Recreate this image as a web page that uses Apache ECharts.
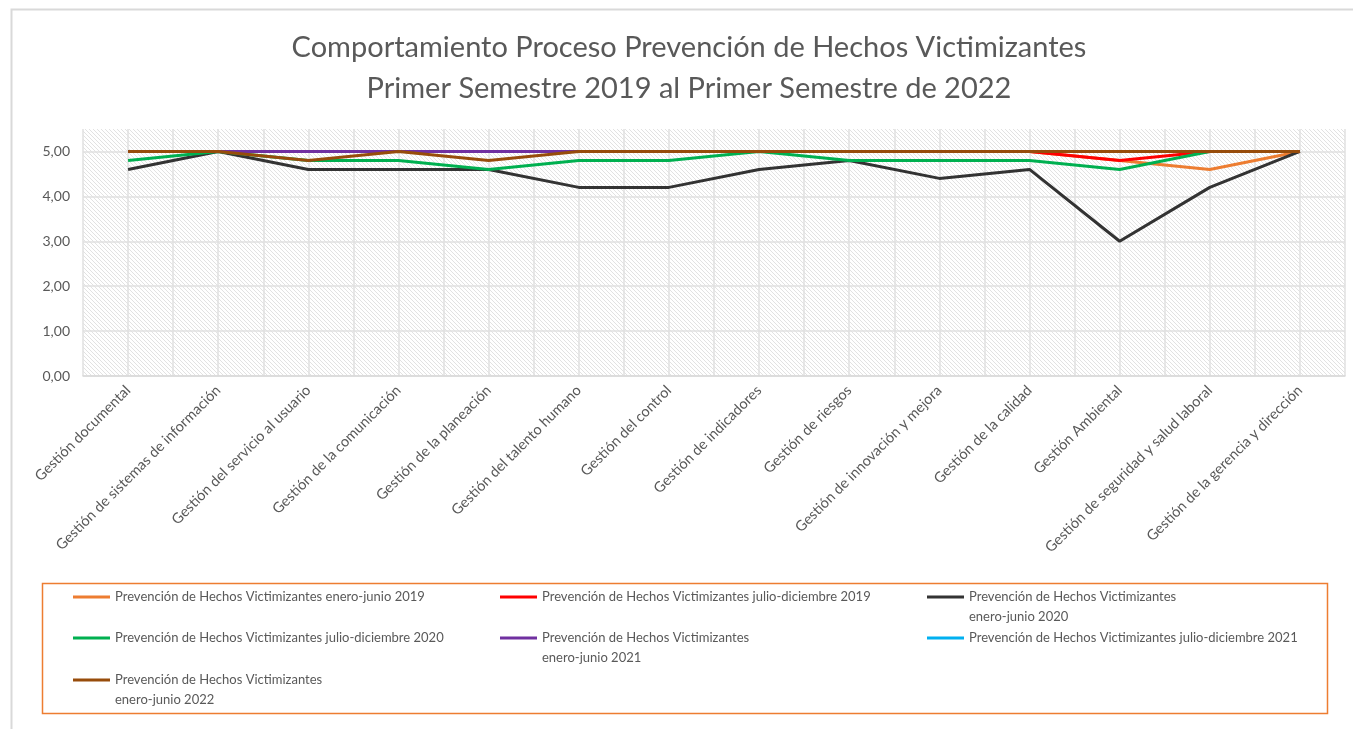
<!DOCTYPE html>
<html>
<head>
<meta charset="utf-8">
<title>Comportamiento Proceso Prevención de Hechos Victimizantes</title>
<script src="https://cdn.jsdelivr.net/npm/echarts@6.0.0/dist/echarts.min.js"></script>
<style>
  html, body { margin: 0; padding: 0; background: #fff; }
  #chart { width: 1353px; height: 729px; }
</style>
</head>
<body>
<div id="chart"></div>
<script>
const categories = [
  'Gestión documental',
  'Gestión de sistemas de información',
  'Gestión del servicio al usuario',
  'Gestión de la comunicación',
  'Gestión de la planeación',
  'Gestión del talento humano',
  'Gestión del control',
  'Gestión de indicadores',
  'Gestión de riesgos',
  'Gestión de innovación y mejora',
  'Gestión de la calidad',
  'Gestión Ambiental',
  'Gestión de seguridad y salud laboral',
  'Gestión de la gerencia y dirección'
];

const eneJun2019 = [5, 5, 5, 5, 5, 5, 5, 5, 5, 5, 5, 4.8, 4.6, 5];
const julDic2019 = [5, 5, 5, 5, 5, 5, 5, 5, 5, 5, 5, 4.8, 5, 5];
const eneJun2020 = [4.6, 5, 4.6, 4.6, 4.6, 4.2, 4.2, 4.6, 4.8, 4.4, 4.6, 3.0, 4.2, 5];
const julDic2020 = [4.8, 5, 4.8, 4.8, 4.6, 4.8, 4.8, 5, 4.8, 4.8, 4.8, 4.6, 5, 5];
const eneJun2021 = [5, 5, 5, 5, 5, 5, 5, 5, 5, 5, 5, 5, 5, 5];
const julDic2021 = [5, 5, 5, 5, 5, 5, 5, 5, 5, 5, 5, 5, 5, 5];
const eneJun2022 = [5, 5, 4.8, 5, 4.8, 5, 5, 5, 5, 5, 5, 5, 5, 5];

const seriesNames = [
  'Prevención de Hechos Victimizantes enero-junio 2019',
  'Prevención de Hechos Victimizantes julio-diciembre 2019',
  'Prevención de Hechos Victimizantes\nenero-junio 2020',
  'Prevención de Hechos Victimizantes julio-diciembre 2020',
  'Prevención de Hechos Victimizantes\nenero-junio 2021',
  'Prevención de Hechos Victimizantes julio-diciembre 2021',
  'Prevención de Hechos Victimizantes\nenero-junio 2022'
];
const seriesValues = [eneJun2019, julDic2019, eneJun2020, julDic2020, eneJun2021, julDic2021, eneJun2022];
const yTicks = [0, 1, 2, 3, 4, 5];

const colors = ['#ED7D31', '#FF0000', '#333333', '#00B050', '#7030A0', '#00B0F0', '#974C0B'];
const FONT = 'Lato, "Open Sans", sans-serif';
const TEXT = '#595959';

// diagonal hatch used as the plot background
function hatchPattern() {
  const c = document.createElement('canvas');
  c.width = 8;
  c.height = 8;
  const ctx = c.getContext('2d');
  ctx.fillStyle = '#ffffff';
  ctx.fillRect(0, 0, 8, 8);
  ctx.strokeStyle = '#e2e2e2';
  ctx.lineWidth = 1;
  for (let k = -8; k <= 8; k += 4) {
    ctx.beginPath();
    ctx.moveTo(k, 0);
    ctx.lineTo(k + 8, 8);
    ctx.stroke();
  }
  return { image: c, repeat: 'repeat' };
}

// legend slots: [left, iconCenterY]
const legendSlots = [[73, 597], [500, 597], [927, 597], [73, 638], [500, 638], [927, 638], [73, 680]];

const chart = echarts.init(document.getElementById('chart'));

// two-line names get an empty first line so the icon sits beside the first text line
const legends = seriesNames.map((name, i) => {
  const twoLines = name.indexOf('\n') >= 0;
  return {
    data: [name],
    left: legendSlots[i][0],
    top: legendSlots[i][1] - (twoLines ? 30 : 10),
    padding: 0,
    icon: 'rect',
    itemWidth: 37,
    itemHeight: 3,
    selectedMode: false,
    formatter: n => (twoLines ? '\n' + n : n),
    textStyle: {
      fontFamily: FONT,
      fontSize: 13,
      color: TEXT,
      lineHeight: 20
    }
  };
});

const option = {
  backgroundColor: '#fff',
  animation: false,
  title: {
    text: 'Comportamiento Proceso Prevención de Hechos Victimizantes\nPrimer Semestre 2019 al Primer Semestre de 2022',
    left: 689,
    top: 27,
    textAlign: 'center',
    padding: 0,
    textStyle: {
      fontFamily: FONT,
      fontSize: 29,
      fontWeight: 'normal',
      color: TEXT,
      lineHeight: 41
    }
  },
  legend: legends,
  grid: {
    left: 83,
    right: 8,
    top: 129,
    bottom: 353,
    show: true,
    borderWidth: 0,
    backgroundColor: hatchPattern()
  },
  xAxis: [
    {
      type: 'category',
      data: categories,
      boundaryGap: true,
      axisTick: { show: false },
      axisLine: { lineStyle: { color: '#d9d9d9', width: 1.5 } },
      splitLine: { show: false },
      axisLabel: {
        rotate: 45,
        interval: 0,
        margin: 12,
        fontFamily: FONT,
        fontSize: 14.5,
        color: TEXT
      }
    },
    {
      type: 'value',
      min: 0,
      max: 28,
      interval: 1,
      position: 'bottom',
      axisLine: { show: false },
      axisTick: { show: false },
      axisLabel: { show: false },
      splitLine: { show: true, lineStyle: { color: '#e0e0e0', width: 1.5 } }
    }
  ],
  yAxis: {
    type: 'value',
    min: 0,
    max: 5.5,
    interval: 1,
    axisLine: { show: false },
    axisTick: { show: false },
    axisLabel: {
      margin: 13,
      fontFamily: FONT,
      fontSize: 14,
      color: TEXT,
      formatter: v => (yTicks.indexOf(v) >= 0 ? v.toFixed(2).replace('.', ',') : '')
    },
    splitLine: {
      show: true,
      lineStyle: {
        color: ['#e0e0e0', '#e0e0e0', '#e0e0e0', '#e0e0e0', '#e0e0e0', '#e0e0e0', 'rgba(0,0,0,0)'],
        width: 1.5
      }
    }
  },
  graphic: [
    {
      type: 'rect',
      silent: true,
      shape: { x: 11.5, y: 9.5, width: 1360, height: 740 },
      style: { fill: 'none', stroke: '#d9d9d9', lineWidth: 2 }
    },
    {
      type: 'rect',
      silent: true,
      shape: { x: 42.5, y: 583.5, width: 1285, height: 130 },
      style: { fill: 'none', stroke: '#ED7D31', lineWidth: 1.5 }
    }
  ],
  series: seriesNames.map((name, i) => ({
    name: name,
    type: 'line',
    xAxisIndex: 0,
    data: seriesValues[i],
    symbol: 'none',
    z: i === 5 ? 1 : 2,
    itemStyle: { color: colors[i] },
    lineStyle: { color: colors[i], width: 3 }
  }))
};

chart.setOption(option);
window.addEventListener('resize', () => chart.resize());
</script>
</body>
</html>
